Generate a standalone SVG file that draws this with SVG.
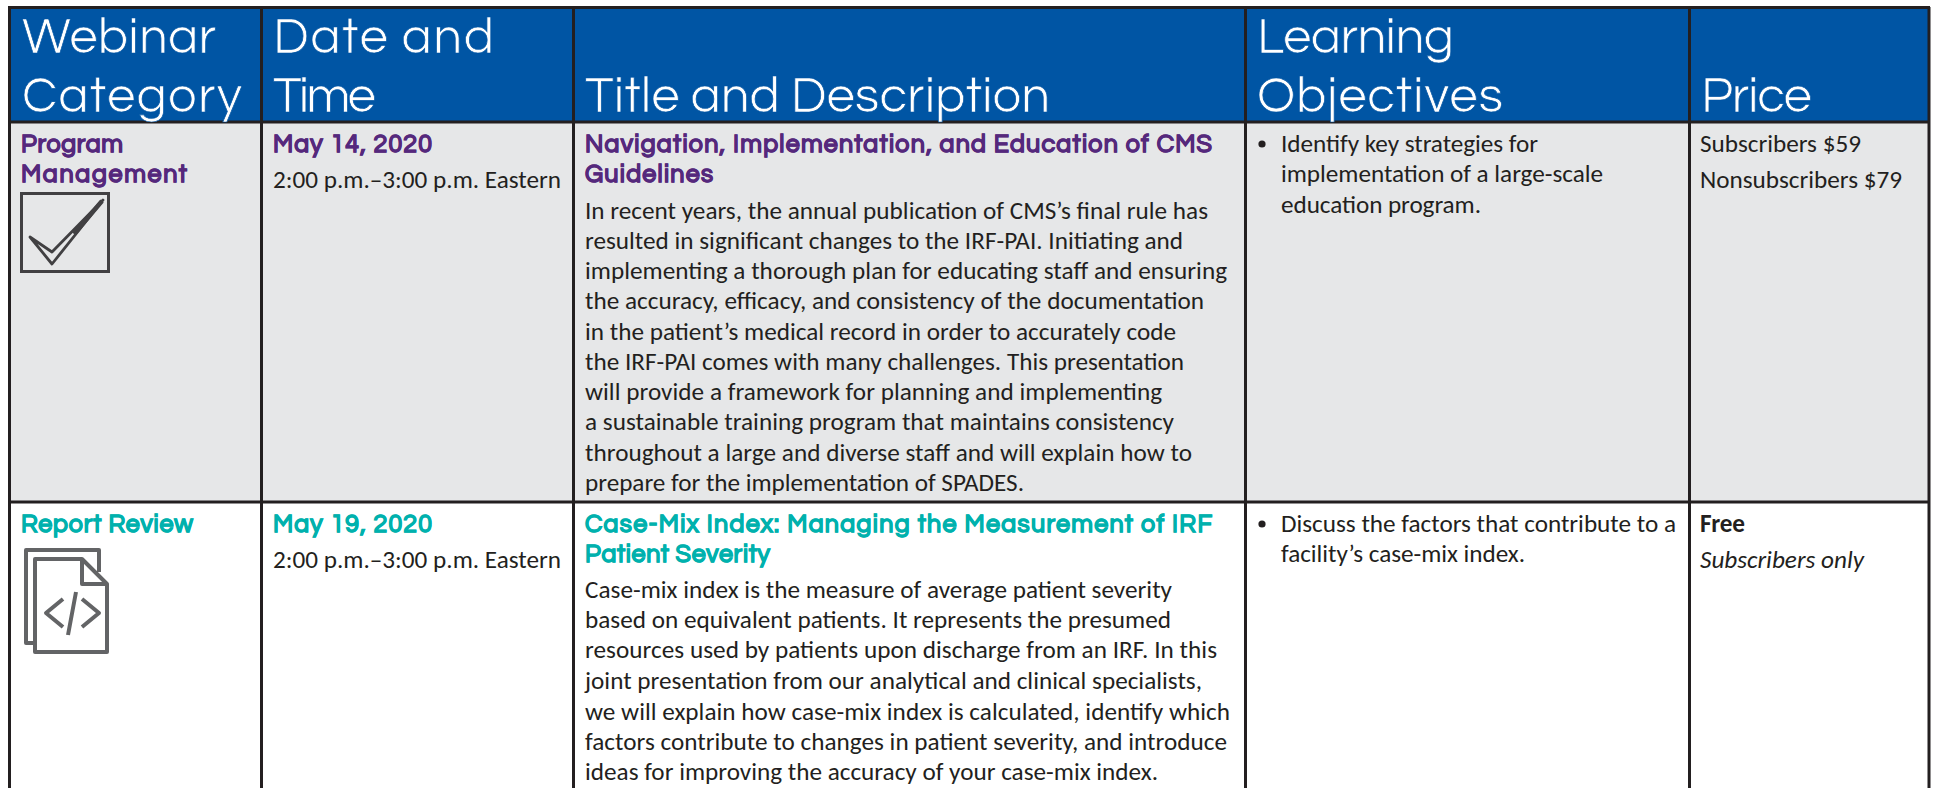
<svg xmlns="http://www.w3.org/2000/svg" width="1937" height="788" viewBox="0 0 1937 788">
<style>
.h{font-family:"Questrial","Lato","Liberation Sans",sans-serif;font-size:51px;fill:#fff;stroke:#0055a4;stroke-width:.7px}
.b{font-family:"Carlito","Open Sans","Noto Sans",sans-serif;font-size:25.2px;fill:#231f20}
.t{font-family:"Questrial","Lato","Liberation Sans",sans-serif;font-size:25px;font-weight:700;stroke-width:.5px}
.p{fill:#55287c;stroke:#55287c}.c{fill:#00b1ad;stroke:#00b1ad}
.ln{stroke:#231f20;stroke-width:3;fill:none}
.ic{stroke:#636466;stroke-width:4;fill:none;stroke-linejoin:round}
</style>
<rect x="9" y="7" width="1920" height="115" fill="#0055a4"/>
<rect x="9" y="122" width="1920" height="380" fill="#e6e7e8"/>
<rect x="9" y="502" width="1920" height="286" fill="#fff"/>
<g id="grid">
<path class="ln" d="M8 7.5H1930M9 122H1929M9 502H1929M9.5 7V788M261.5 7V788M573.5 7V788M1245.5 7V788M1689.5 7V788M1929 7V788"/>
</g>
<g id="header">
<text class="h" x="22" y="53" textLength="194">Webinar</text><text class="h" x="22" y="112" textLength="220">Category</text>
<text class="h" x="273" y="53" textLength="221">Date and</text><text class="h" x="273" y="112" textLength="103">Time</text>
<text class="h" x="585" y="112" textLength="465">Title and Description</text>
<text class="h" x="1257" y="53" textLength="197">Learning</text><text class="h" x="1257" y="112" textLength="246">Objectives</text>
<text class="h" x="1701" y="112" textLength="111">Price</text>
</g>
<g id="row1-category">
<text class="t p" x="21" y="152" textLength="102">Program</text><text class="t p" x="21" y="182" textLength="166">Management</text>
<rect x="21.5" y="193.5" width="87" height="78" fill="none" stroke="#414042" stroke-width="3"/>
<path d="M30 237L52 264L103 200L52 252Z" fill="#e6e7e8" stroke="#414042" stroke-width="2.8" stroke-linejoin="round"/>
<path d="M102 201L74 234" stroke="#414042" stroke-width="4.5"/>
</g>
<g id="row1-date">
<text class="t p" x="273" y="152" textLength="159">May 14, 2020</text>
<text class="b" x="273" y="188" textLength="288">2:00 p.m.–3:00 p.m. Eastern</text>
</g>
<g id="row1-title">
<text class="t p" x="585" y="152" textLength="627">Navigation, Implementation, and Education of CMS</text>
<text class="t p" x="585" y="182" textLength="128">Guidelines</text>
<text class="b" x="585" y="219" textLength="623">In recent years, the annual publication of CMS’s final rule has</text>
<text class="b" x="585" y="249" textLength="598">resulted in significant changes to the IRF-PAI. Initiating and</text>
<text class="b" x="585" y="279" textLength="642">implementing a thorough plan for educating staff and ensuring</text>
<text class="b" x="585" y="309" textLength="619">the accuracy, efficacy, and consistency of the documentation</text>
<text class="b" x="585" y="340" textLength="591">in the patient’s medical record in order to accurately code</text>
<text class="b" x="585" y="370" textLength="599">the IRF-PAI comes with many challenges. This presentation</text>
<text class="b" x="585" y="400" textLength="577">will provide a framework for planning and implementing</text>
<text class="b" x="585" y="430" textLength="589">a sustainable training program that maintains consistency</text>
<text class="b" x="585" y="461" textLength="607">throughout a large and diverse staff and will explain how to</text>
<text class="b" x="585" y="491" textLength="439">prepare for the implementation of SPADES.</text>
</g>
<g id="row1-objectives">
<circle cx="1262" cy="144" r="3.6" fill="#231f20"/>
<text class="b" x="1281" y="152" textLength="257">Identify key strategies for</text>
<text class="b" x="1281" y="182" textLength="322">implementation of a large-scale</text>
<text class="b" x="1281" y="213" textLength="200">education program.</text>
</g>
<g id="row1-price">
<text class="b" x="1700" y="152" textLength="161">Subscribers $59</text>
<text class="b" x="1700" y="188" textLength="202">Nonsubscribers $79</text>
</g>
<g id="row2-category">
<text class="t c" x="21" y="532" textLength="172">Report Review</text>
<path class="ic" d="M34 643H26V550H99V572"/>
<path class="ic" d="M35 559H82L107 584V652H35ZM82 559V584H107"/>
<path class="ic" d="M63 599L46 613L63 627M82 599L99 613L82 627M76 592L68 635"/>
</g>
<g id="row2-date">
<text class="t c" x="273" y="532" textLength="159">May 19, 2020</text>
<text class="b" x="273" y="568" textLength="288">2:00 p.m.–3:00 p.m. Eastern</text>
</g>
<g id="row2-title">
<text class="t c" x="585" y="532" textLength="627">Case-Mix Index: Managing the Measurement of IRF</text>
<text class="t c" x="585" y="562" textLength="185">Patient Severity</text>
<text class="b" x="585" y="598" textLength="587">Case-mix index is the measure of average patient severity</text>
<text class="b" x="585" y="628" textLength="586">based on equivalent patients. It represents the presumed</text>
<text class="b" x="585" y="658" textLength="632">resources used by patients upon discharge from an IRF. In this</text>
<text class="b" x="585" y="689" textLength="617">joint presentation from our analytical and clinical specialists,</text>
<text class="b" x="585" y="720" textLength="645">we will explain how case-mix index is calculated, identify which</text>
<text class="b" x="585" y="750" textLength="642">factors contribute to changes in patient severity, and introduce</text>
<text class="b" x="585" y="780" textLength="573">ideas for improving the accuracy of your case-mix index.</text>
</g>
<g id="row2-objectives">
<circle cx="1262" cy="524" r="3.6" fill="#231f20"/>
<text class="b" x="1281" y="532" textLength="395">Discuss the factors that contribute to a</text>
<text class="b" x="1281" y="562" textLength="244">facility’s case-mix index.</text>
</g>
<g id="row2-price">
<text class="b" x="1700" y="532" font-weight="700" textLength="45">Free</text>
<text class="b" x="1700" y="568" font-style="italic" textLength="164">Subscribers only</text>
</g>
</svg>
